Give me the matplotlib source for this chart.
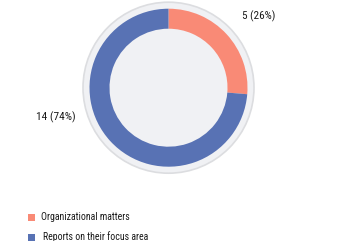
import matplotlib
matplotlib.use("Agg")
import matplotlib.pyplot as plt
from matplotlib.patches import Circle, Rectangle

categories = ["Organizational matters", "Reports on their focus area"]
values = [5, 14]
labels = ["5 (26%)", "14 (74%)"]
colors = ["#f98a76", "#5872b4"]

plt.rcParams['font.family'] = ['Roboto Condensed', 'DejaVu Sans']

fig = plt.figure(figsize=(3.37, 2.41), dpi=100)
ax = fig.add_axes([0, 0, 1, 1])

cx, cy = 168.5, 153.3
ax.add_patch(Circle((cx, cy), 85.5, fc="#f0f1f4", ec="#dcdde0", lw=1.2, zorder=0))
ax.pie(values, colors=colors, startangle=90, counterclock=False,
       radius=79, center=(cx, cy), wedgeprops=dict(width=20, linewidth=0),
       frame=True)
ax.set_xlim(0, 337)
ax.set_ylim(0, 241)
ax.set_aspect('equal')
ax.axis('off')

ax.text(242, 241 - 16.5, labels[0], fontsize=8, color="#1a1a1a", ha='left', va='center')
ax.text(76, 241 - 117.5, labels[1], fontsize=8.2, color="#1a1a1a", ha='right', va='center')

for i, (cat, col) in enumerate(zip(categories, colors)):
    y = 241 - (217.5 + 19.5 * i)
    ax.add_patch(Rectangle((28, y - 3.5), 7, 7, fc=col, ec='none'))
    ax.text(41 + 2 * i, y, cat, fontsize=7.1, color="#1a1a1a", ha='left', va='center')

fig.savefig("out.png", dpi=100)
